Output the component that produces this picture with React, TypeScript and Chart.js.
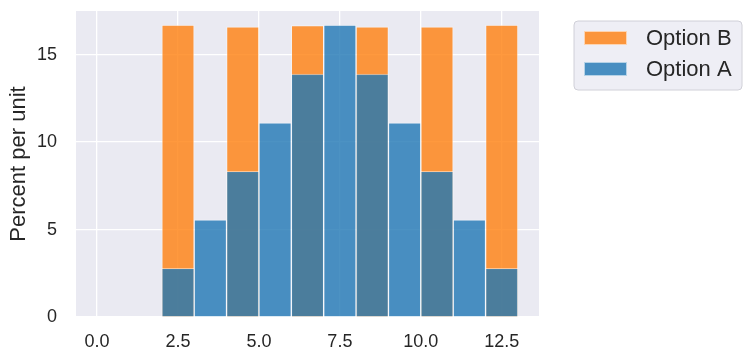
import React, { useEffect, useRef } from "react";
import { Chart, registerables } from "chart.js";

Chart.register(...registerables);

// Histogram bins (left edges, width 1)
const binLeft = [2, 3, 4, 5, 6, 7, 8, 9, 10, 11, 12];
const binWidth = 1;
// Percent per unit
const optionA = [2.78, 5.56, 8.33, 11.11, 13.89, 16.7, 13.89, 11.11, 8.33, 5.56, 2.78];
const optionB = [16.7, 0, 16.6, 0, 16.67, 0, 16.6, 0, 16.6, 0, 16.7];
const seriesNames = ["Option A", "Option B"];
const xTicks = [0, 2.5, 5, 7.5, 10, 12.5];
const yTicks = [0, 5, 10, 15];
const xRange = [-0.65, 13.65];
const yRange = [0, 17.5];
const yTitle = "Percent per unit";

const BLUE = "rgba(31,119,180,0.8)";
const ORANGE = "rgba(255,127,14,0.8)";
const TEXT = "#262626";
const FONT = 'Arial, "Liberation Sans", sans-serif';

const bgPlugin = {
  id: "plotBg",
  beforeDraw(chart: any) {
    const { ctx, chartArea } = chart;
    ctx.save();
    ctx.fillStyle = "#eaeaf2";
    ctx.fillRect(chartArea.left, chartArea.top, chartArea.right - chartArea.left, chartArea.bottom - chartArea.top);
    ctx.restore();
  },
};

const legendPlugin = {
  id: "boxLegend",
  afterDraw(chart: any) {
    const { ctx } = chart;
    const x = 574, y = 21, w = 168, h = 69, r = 4;
    ctx.save();
    ctx.beginPath();
    ctx.moveTo(x + r, y);
    ctx.arcTo(x + w, y, x + w, y + h, r);
    ctx.arcTo(x + w, y + h, x, y + h, r);
    ctx.arcTo(x, y + h, x, y, r);
    ctx.arcTo(x, y, x + w, y, r);
    ctx.closePath();
    ctx.fillStyle = "rgba(234,234,242,0.8)";
    ctx.fill();
    ctx.strokeStyle = "#d0d0d8";
    ctx.lineWidth = 1;
    ctx.stroke();
    // legend order: Option B then Option A (reverse of dataset order)
    const items = [...chart.data.datasets].reverse();
    items.forEach((ds: any, i: number) => {
      const cy = 38 + i * 31;
      ctx.fillStyle = ds.backgroundColor;
      ctx.fillRect(584, cy - 7, 43, 14);
      ctx.strokeStyle = "rgba(255,255,255,0.6)";
      ctx.lineWidth = 1;
      ctx.strokeRect(584.5, cy - 6.5, 42, 13);
      ctx.fillStyle = TEXT;
      ctx.font = `22px ${FONT}`;
      ctx.textBaseline = "middle";
      ctx.textAlign = "left";
      ctx.fillText(ds.label, 646, cy + 1);
    });
    ctx.restore();
  },
};

export default function App() {
  const ref = useRef<HTMLCanvasElement | null>(null);
  useEffect(() => {
    document.body.style.margin = "0";
    const toPoints = (vals: number[]) =>
      binLeft.map((l, i) => ({ x: l + binWidth / 2, y: vals[i] > 0 ? vals[i] : null }));
    const chart = new Chart(ref.current as HTMLCanvasElement, {
      type: "bar",
      data: {
        datasets: [
          {
            label: seriesNames[0],
            data: toPoints(optionA),
            backgroundColor: BLUE,
            borderColor: "rgba(255,255,255,0.45)",
            borderWidth: 1,
            grouped: false,
            barPercentage: 1,
            categoryPercentage: 1,
          },
          {
            label: seriesNames[1],
            data: toPoints(optionB),
            backgroundColor: ORANGE,
            borderColor: "rgba(255,255,255,0.45)",
            borderWidth: 1,
            grouped: false,
            barPercentage: 1,
            categoryPercentage: 1,
          },
        ] as any,
      },
      options: {
        animation: false,
        responsive: false,
        maintainAspectRatio: false,
        layout: { padding: { top: 11, right: 211, left: 0, bottom: 0 } },
        plugins: { legend: { display: false }, tooltip: { enabled: false } },
        scales: {
          x: {
            type: "linear",
            offset: false,
            min: xRange[0],
            max: xRange[1],
            afterBuildTicks: (s: any) => {
              s.ticks = xTicks.map((v) => ({ value: v }));
            },
            afterFit: (s: any) => {
              s.height = 46;
              s.paddingLeft = 0;
              s.paddingRight = 0;
            },
            grid: { color: "#ffffff", lineWidth: 1.3, drawTicks: false, offset: false },
            border: { display: false },
            ticks: {
              color: TEXT,
              font: { family: FONT, size: 18 },
              padding: 14,
              maxRotation: 0,
              callback: (v: any) => Number(v).toFixed(1),
            },
          },
          y: {
            type: "linear",
            min: yRange[0],
            max: yRange[1],
            afterBuildTicks: (s: any) => {
              s.ticks = yTicks.map((v) => ({ value: v }));
            },
            afterFit: (s: any) => {
              s.width = 76;
              s.paddingTop = 0;
              s.paddingBottom = 0;
            },
            grid: { color: "#ffffff", lineWidth: 1.3, drawTicks: false },
            border: { display: false },
            ticks: {
              color: TEXT,
              font: { family: FONT, size: 18 },
              padding: 19,
              callback: (v: any) => String(v),
            },
            title: {
              display: true,
              text: yTitle,
              color: TEXT,
              font: { family: FONT, size: 22 },
              padding: { top: 6, bottom: 0 },
            },
          },
        },
      } as any,
      plugins: [bgPlugin, legendPlugin],
    });
    return () => chart.destroy();
  }, []);
  return (
    <div style={{ width: 750, height: 363 }}>
      <canvas ref={ref} width={750} height={363} style={{ display: "block" }} />
    </div>
  );
}
